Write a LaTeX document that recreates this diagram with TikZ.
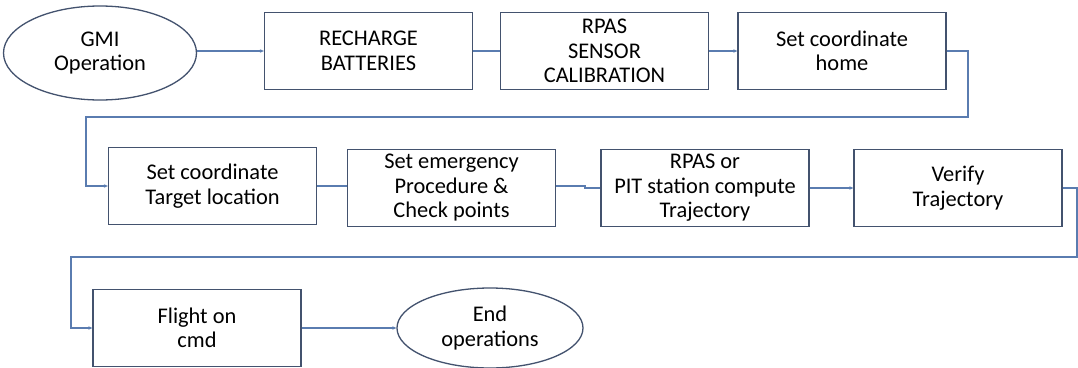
\documentclass[tikz,border=0pt]{standalone}
\usepackage{fontspec}
\setmainfont{Carlito}
\usetikzlibrary{shapes.geometric,arrows.meta}
\definecolor{edge}{HTML}{43526E}
\definecolor{link}{HTML}{5A7CB0}
\tikzset{
  stepbox/.style={draw=edge, line width=1.3pt, fill=white, rectangle,
    minimum width=208pt, minimum height=77pt, inner sep=2pt, align=center,
    font=\fontsize{22.4}{24.5}\selectfont},
  terminal/.style={draw=edge, line width=1.3pt, fill=white, ellipse,
    inner sep=0pt, align=center, font=\fontsize{22.4}{24.5}\selectfont},
  flow/.style={draw=link, line width=1.1pt, -{Stealth[length=4pt,width=3.5pt]}},
  joint/.style={draw=link, line width=1.1pt},
}
\begin{document}
\begin{tikzpicture}[x=1pt,y=-1pt]
\useasboundingbox (0,0) rectangle (1078,367);
\fill[white] (0,0) rectangle (1078,367);

% first row
\node[terminal, minimum width=193pt, minimum height=94pt] (gmi) at (100,53) {GMI\\Operation};
\node[stepbox] (recharge) at (368.5,51) {RECHARGE\\BATTERIES};
\node[stepbox] (calib) at (604.5,51) {RPAS\\SENSOR\\CALIBRATION};
\node[stepbox] (home) at (842,51) {Set coordinate\\home};

% second row
\node[stepbox] (target) at (212.5,186) {Set coordinate\\Target location};
\node[stepbox] (emerg) at (451.5,188) {Set emergency\\Procedure \&\\Check points};
\node[stepbox] (pit) at (705,188) {RPAS or\\PIT station compute\\Trajectory};
\node[stepbox] (verify) at (958,188) {Verify\\Trajectory};

% third row
\node[stepbox] (flight) at (197,328) {Flight on\\cmd};
\node[terminal, minimum width=186pt, minimum height=80pt] (finish) at (490,328) {End\\operations};

% turn points of the return lines
\coordinate (r1a) at (968,117);
\coordinate (r1b) at (86,117);
\coordinate (r2a) at (1077,257);
\coordinate (r2b) at (71,257);
\coordinate (jog) at (585,186);

% connectors
\draw[flow] (gmi.east |- recharge.west) -- (recharge.west);
\draw[joint] (recharge.east) -- (calib.west);
\draw[flow] (calib.east) -- (home.west);
\draw[flow] (home.east) -| (r1a) -- (r1b) |- (target.west);
\draw[joint] (target.east) -- (target.east -| emerg.west);
\draw[joint] (emerg.east |- jog) -- (jog) |- (pit.west);
\draw[flow] (pit.east) -- (verify.west);
\draw[flow] (verify.east) -| (r2a) -- (r2b) |- (flight.west);
\draw[flow] (flight.east) -- (finish.west);
\end{tikzpicture}
\end{document}
